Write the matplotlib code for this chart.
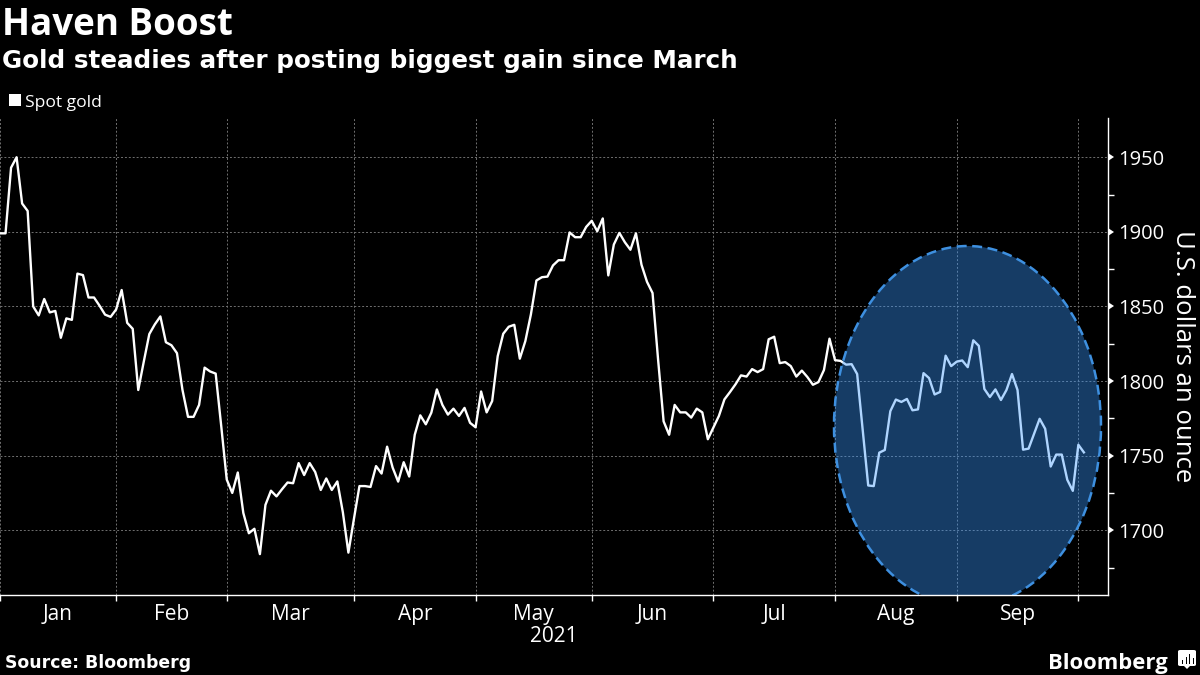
import matplotlib
matplotlib.use("Agg")
import matplotlib.pyplot as plt
from matplotlib.patches import Ellipse, FancyBboxPatch, Polygon, Rectangle

# spot gold, one value per trading day
gold_q1 = [
    1899, 1899, 1943, 1950, 1919, 1914, 1850, 1844, 1855, 1846,
    1847, 1829, 1842, 1841, 1872, 1871, 1856, 1856, 1850.5, 1844.5,
    1843, 1848, 1861, 1839, 1835, 1794, 1813, 1831.5, 1838, 1843.3,
    1826, 1824, 1818.7, 1794, 1776, 1776, 1784, 1809, 1806.4, 1805,
    1770, 1734, 1725, 1738.7, 1711.6, 1698, 1701, 1684, 1717, 1726.5,
    1722.7, 1727.5, 1732, 1731.5, 1745, 1737, 1745, 1739, 1727, 1734.7,
    1727, 1732.7, 1712, 1685,
]
gold_q2 = [
    1707.6, 1729.6, 1729.6, 1729, 1743, 1738, 1756, 1742, 1732.6, 1745.6,
    1736, 1764, 1777, 1771, 1778.8, 1794.4, 1784, 1777.5, 1781.5, 1776.6,
    1782, 1772, 1769, 1793, 1779, 1786.6, 1816.7, 1831.7, 1836.4, 1837.7,
    1815, 1826.8, 1844.6, 1867.4, 1869.6, 1870, 1877.5, 1881, 1881, 1899.6,
    1896.4, 1896.4, 1903.3, 1907.4, 1900.4, 1909, 1870.8, 1891.5, 1899.3, 1893,
    1888, 1899, 1878, 1866.5, 1859, 1814.5, 1773, 1764, 1784, 1779,
    1779, 1775.5, 1781.5, 1779, 1761,
]
gold_q3 = [
    1768.8, 1776.6, 1787.7, 1792.6, 1797.8, 1803.8, 1803, 1808, 1806, 1808,
    1828, 1829.7, 1812, 1812.7, 1810, 1803, 1807, 1802.7, 1797.5, 1799.3,
    1807.4, 1828.4, 1814, 1813.5, 1811, 1811.3, 1804.7, 1767.6, 1730, 1729.6,
    1752, 1753.8, 1779.8, 1787.6, 1786, 1788, 1780.4, 1781, 1805.3, 1802,
    1791, 1792.7, 1817, 1810, 1813, 1813.8, 1809.3, 1827.3, 1823.6, 1794.7,
    1789.3, 1794.4, 1787.3, 1794, 1804.7, 1794, 1754, 1754.7, 1764.7, 1774.7,
    1768, 1742.7, 1750.7, 1750.7, 1733.8, 1726.4, 1757.3, 1752.2,
]
gold = gold_q1 + gold_q2 + gold_q3

# trading day index where each month starts
month_starts = [0, 21, 41, 64, 86, 107, 129, 151, 173, 195]
month_labels = ["Jan", "Feb", "Mar", "Apr", "May", "Jun", "Jul", "Aug", "Sep"]
y_major = [1700, 1750, 1800, 1850, 1900, 1950]
y_minor = [1675, 1725, 1775, 1825, 1875, 1925]

plt.rcParams["font.family"] = ["Open Sans", "DejaVu Sans"]

W, H = 1200, 675
fig = plt.figure(figsize=(12, 6.75), dpi=100, facecolor="black")
ax = fig.add_axes([0, 1 - 595 / H, 1108 / W, (595 - 118) / H], facecolor="black")

x = list(range(len(gold)))
ax.plot(x, gold, color="white", linewidth=1.7, zorder=2)

ax.set_xlim(0, 1108 / 5.53)
ax.set_ylim(1656.6, 1976.3)

ax.set_xticks(month_starts)
ax.set_xticklabels([])
ax.set_yticks(y_major)
ax.set_yticks(y_minor, minor=True)
ax.yaxis.tick_right()
ax.tick_params(axis="x", which="major", colors="white", length=4, width=1)
ax.tick_params(axis="y", which="major", colors="white", length=6, width=1,
               labelsize=14.5, pad=1.5)
ax.tick_params(axis="y", which="minor", colors="white", length=4, width=1)
ax.grid(True, which="major", color="#707070", linewidth=0.7, linestyle=(0, (2, 2)))
ax.set_axisbelow(True)

# the major y ticks are small arrow heads
for tick in ax.yaxis.get_major_ticks():
    tick.tick2line.set_marker(9)
    tick.tick2line.set_markersize(6)
    tick.tick2line.set_markeredgewidth(0)

for name, spine in ax.spines.items():
    spine.set_visible(name in ("bottom", "right"))
    spine.set_color("white")
    spine.set_linewidth(1)
    spine.set_zorder(5)

for i, label in enumerate(month_labels):
    ax.annotate(label, xy=((month_starts[i] + month_starts[i + 1]) / 2, 0),
                xycoords=("data", "axes fraction"), xytext=(0, -6.5),
                textcoords="offset points", ha="center", va="top",
                color="white", fontsize=15)

# highlight circle, placed in pixels
circle = Ellipse((967.5 / 1108, (595 - 426) / 477), 267 / 1108, 360 / 477,
                 transform=ax.transAxes, facecolor=(0.224, 0.596, 1.0, 0.4),
                 edgecolor="#3e90e0", linewidth=1.8, linestyle=(0, (4, 2.2)), zorder=3)
ax.add_patch(circle)

fig.text(554 / W, 1 - 636 / H, "2021", ha="center", va="center", color="white", fontsize=15)
fig.text(1183 / W, 1 - 356 / H, "U.S. dollars an ounce", rotation=270, ha="center",
         va="center", color="white", fontsize=18.5)

fig.text(2 / W, 1 - 25 / H, "Haven Boost", ha="left", va="center", color="white",
         fontsize=26.5, fontweight="bold")
fig.text(2 / W, 1 - 61 / H, "Gold steadies after posting biggest gain since March",
         ha="left", va="center", color="white", fontsize=17.7, fontweight="bold",
         family="DejaVu Sans")

fig.add_artist(Rectangle((9 / W, 1 - 106 / H), 12 / W, 12 / H, transform=fig.transFigure,
                         facecolor="white", edgecolor="none"))
fig.text(25 / W, 1 - 103 / H, "Spot gold", ha="left", va="center", color="white", fontsize=12.6)

fig.text(5 / W, 1 - 663 / H, "Source: Bloomberg", ha="left", va="center", color="white",
         fontsize=12.4, fontweight="bold", family="DejaVu Sans")
fig.text(1048 / W, 1 - 663 / H, "Bloomberg", ha="left", va="center", color="white",
         fontsize=15.8, fontweight="bold")

# small logo mark next to the wordmark
fig.add_artist(FancyBboxPatch((1178 / W, 1 - 666 / H), 18 / W, 16 / H,
                              boxstyle="round,pad=0,rounding_size=0.002",
                              transform=fig.transFigure, facecolor="white", edgecolor="none"))
fig.add_artist(Polygon([(1184 / W, 1 - 666 / H), (1190 / W, 1 - 666 / H), (1187 / W, 1 - 669 / H)],
                       transform=fig.transFigure, facecolor="white", edgecolor="none"))
for bar_x, bar_h in zip([1182, 1185.5, 1189, 1192.5], [4, 7, 10, 6]):
    fig.add_artist(Rectangle((bar_x / W, 1 - 664 / H), 1.3 / W, bar_h / H,
                             transform=fig.transFigure, facecolor="black", edgecolor="none"))

fig.savefig("out.png", dpi=100, facecolor="black")
